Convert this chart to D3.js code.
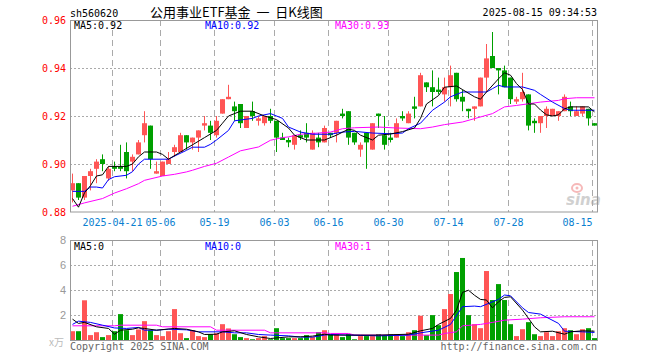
<!DOCTYPE html>
<html>
<head>
<meta charset="utf-8">
<script src="https://cdn.jsdelivr.net/npm/d3@7"></script>
<style>
  body { margin: 0; background: #fff; }
  text { font-family: "DejaVu Sans Mono", monospace; }
</style>
</head>
<body>
<div id="chart"></div>
<script>
var width = 660;
var height = 360;

// trading days shown (2025)
var dates = ['04-10','04-11','04-14','04-15','04-16','04-17','04-18','04-21','04-22','04-23','04-24','04-25','04-28','04-29','04-30',
    '05-06','05-07','05-08','05-09','05-12','05-13','05-14','05-15','05-16','05-19','05-20','05-21','05-22','05-23','05-26','05-27','05-28','05-29','05-30',
    '06-03','06-04','06-05','06-06','06-09','06-10','06-11','06-12','06-13','06-16','06-17','06-18','06-19','06-20','06-23','06-24','06-25','06-26','06-27','06-30',
    '07-01','07-02','07-03','07-04','07-07','07-08','07-09','07-10','07-11','07-14','07-15','07-16','07-17','07-18','07-21','07-22','07-23','07-24','07-25','07-28','07-29','07-30','07-31',
    '08-01','08-04','08-05','08-06','08-07','08-08','08-11','08-12','08-13','08-14','08-15'];

var open = [.889,.892,.886,.895,.898,.902,.894,.899,.899,.905,
    .901,.904,.912,.916,.896,.895,.900,.905,.905,.912,
    .909,.911,.916,.916,.912,.921,.927,.924,.925,.915,
    .922,.918,.917,.920,.918,.911,.910,.908,.912,.913,
    .906,.911,.909,.913,.913,.921,.922,.913,.906,.913,
    .906,.921,.912,.911,.911,.920,.917,.924,.924,.934,
    .932,.931,.929,.932,.938,.928,.923,.923,.924,.936,
    .945,.940,.939,.936,.926,.927,.929,.918,.917,.920,
    .920,.920,.922,.924,.920,.921,.923,.917];
var high = [.896,.892,.895,.898,.902,.904,.899,.901,.908,.909,
    .904,.910,.922,.916,.901,.901,.905,.908,.913,.912,
    .911,.914,.920,.918,.920,.927,.933,.926,.925,.920,
    .926,.920,.920,.923,.918,.913,.911,.912,.914,.917,
    .914,.913,.916,.913,.918,.923,.922,.913,.909,.913,
    .917,.921,.920,.913,.919,.922,.922,.928,.938,.934,
    .939,.936,.936,.941,.938,.931,.923,.924,.936,.950,
    .955,.940,.941,.936,.928,.938,.929,.919,.920,.924,
    .923,.922,.929,.926,.924,.924,.923,.917];
var low = [.884,.885,.885,.889,.892,.897,.893,.897,.897,.894,
    .897,.904,.909,.898,.896,.895,.900,.903,.905,.906,
    .906,.905,.914,.910,.911,.921,.927,.918,.915,.915,
    .918,.916,.916,.917,.905,.910,.907,.906,.910,.909,
    .906,.907,.909,.911,.909,.919,.908,.908,.903,.898,
    .906,.915,.906,.909,.911,.918,.917,.919,.924,.930,
    .924,.929,.926,.924,.926,.922,.919,.918,.924,.930,
    .940,.929,.932,.925,.925,.926,.914,.913,.913,.915,
    .920,.918,.922,.920,.920,.920,.916,.916];
var close = [.892,.886,.895,.897,.901,.900,.898,.898,.898,.897,
    .903,.909,.917,.902,.897,.901,.902,.907,.912,.909,
    .911,.914,.917,.913,.918,.927,.928,.922,.917,.920,
    .920,.919,.920,.918,.911,.910,.909,.912,.911,.911,
    .913,.909,.915,.912,.918,.920,.911,.909,.908,.909,
    .917,.920,.908,.910,.917,.919,.921,.923,.937,.932,
    .930,.930,.932,.937,.927,.926,.922,.924,.936,.944,
    .940,.939,.932,.927,.927,.930,.916,.917,.920,.923,
    .923,.922,.928,.922,.922,.924,.919,.916];
var volume = [0.74,0.74,3.2,0.43,0.66,0.27,0.43,0.74,2.1,0.82,
    0.43,0.88,1.54,0.82,0.43,0.35,0.74,2.5,0.58,0.19,
    0.82,0.35,0.27,0.5,0.58,1.3,0.96,0.5,0.27,0.19,
    0.1,0.19,0.35,0.1,0.98,0.19,0.19,0.19,0.19,0.43,
    0.27,0.66,0.82,0.5,0.5,0.27,0.5,0.1,0.35,0.35,
    0.35,0.5,0.43,0.5,0.5,0.35,0.66,0.82,1.97,0.43,
    2.02,1.22,2.5,3.7,5.45,6.57,2.02,1.3,0.98,5.53,
    3.22,4.49,3.22,1.3,0.35,0.9,1.46,0.5,0.35,0.66,
    0.35,0.74,0.98,0.82,0.5,0.9,0.98,0.19];

// moving averages: [day index, value]
var ma5Price = [[0,.8856],[1,.882],[2,.888],[3,.891],[4,.895],[5,.8955],[6,.899],[9,.899],[10,.900],[11,.903],[12,.905],[14,.905],[15,.904],[16,.902],[18,.905],[20,.908],[22,.911],[24,.914],[25,.917],[26,.920],[28,.922],[30,.922],[32,.920],[34,.9185],[36,.915],[37,.912],[39,.910],[42,.910],[44,.912],[46,.9145],[47,.914],[48,.912],[50,.910],[51,.912],[53,.9125],[55,.9135],[57,.915],[58,.919],[59,.925],[61,.9285],[62,.932],[64,.9325],[65,.931],[67,.928],[68,.927],[69,.930],[71,.9355],[72,.938],[73,.937],[74,.9335],[75,.931],[76,.925],[77,.925],[78,.9225],[79,.9205],[80,.920],[81,.9205],[82,.923],[83,.9238],[86,.9238],[87,.9217]];
var ma10Price = [[0,.8886],[2,.8886],[3,.8904],[4,.8904],[5,.890],[6,.8935],[7,.8947],[9,.8953],[10,.8968],[11,.900],[12,.902],[16,.902],[17,.9033],[19,.9057],[20,.907],[22,.907],[23,.9082],[24,.910],[26,.914],[27,.918],[30,.919],[31,.920],[33,.921],[35,.919],[36,.9154],[38,.9133],[40,.9124],[43,.9124],[45,.9133],[47,.9136],[50,.9129],[53,.9126],[55,.9129],[56,.9147],[58,.917],[60,.9224],[62,.9258],[63,.928],[65,.930],[69,.930],[70,.9314],[71,.9328],[72,.9321],[75,.9321],[77,.9307],[78,.929],[80,.9258],[82,.9231],[83,.9224],[87,.9224]];
var ma30Price = [[0,.8824],[2,.8838],[5,.8856],[7,.8879],[9,.8897],[11,.8918],[12,.8932],[15,.895],[17,.8957],[19,.8967],[20,.8974],[22,.899],[24,.9003],[26,.9029],[28,.9055],[31,.9071],[33,.9099],[35,.911],[36,.9113],[38,.9124],[41,.9129],[43,.9133],[45,.9147],[47,.9151],[51,.9154],[54,.915],[58,.9147],[60,.9154],[62,.9164],[65,.9175],[67,.9189],[70,.921],[71,.9224],[72,.9238],[74,.9244],[76,.9251],[78,.9258],[81,.9265],[82,.9272],[84,.9276],[87,.9276]];
var ma5Vol = [[0,1.70],[1,1.36],[2,1.44],[4,1.09],[6,0.96],[7,0.5],[8,0.82],[10,0.90],[11,1.01],[12,0.96],[14,0.82],[17,0.96],[19,0.90],[21,0.69],[22,0.48],[24,0.5],[25,0.69],[27,0.77],[29,0.48],[31,0.29],[33,0.16],[36,0.29],[38,0.29],[40,0.35],[42,0.5],[43,0.43],[48,0.43],[51,0.43],[56,0.5],[58,0.77],[60,0.96],[61,1.28],[63,1.76],[64,2.42],[65,3.83],[66,4.0],[67,3.6],[68,3.27],[69,3.22],[70,2.6],[71,3.08],[72,3.43],[73,3.48],[75,2.42],[76,1.76],[77,1.09],[78,0.69],[80,0.74],[82,0.5],[83,0.69],[85,0.77],[87,0.74]];
var ma10Vol = [[0,1.28],[1,1.54],[3,1.44],[5,1.22],[7,1.0],[9,0.96],[11,1.04],[12,0.82],[14,0.82],[16,0.90],[19,0.85],[21,0.69],[25,0.69],[27,0.61],[29,0.61],[31,0.48],[33,0.43],[36,0.37],[38,0.27],[40,0.27],[42,0.43],[43,0.48],[46,0.43],[51,0.37],[56,0.43],[58,0.61],[61,0.82],[63,1.28],[65,2.69],[67,2.74],[68,2.69],[71,3.27],[72,3.62],[73,3.56],[75,2.6],[76,2.23],[78,2.1],[81,1.36],[82,0.74],[85,0.69],[87,0.64]];
var ma30Vol = [[0,1.17],[7,1.17],[8,1.22],[14,1.22],[15,1.09],[23,1.09],[24,0.82],[32,0.82],[33,0.61],[42,0.61],[43,0.56],[46,0.56],[47,0.43],[61,0.43],[62,0.56],[64,0.69],[65,1.17],[68,1.28],[70,1.44],[72,1.62],[75,1.70],[78,1.81],[82,1.89],[87,1.89]];

var tickDates = ['04-21','05-06','05-19','06-03','06-16','06-30','07-14','07-28','08-15'];
var tickLabels = ['2025-04-21','05-06','05-19','06-03','06-16','06-30','07-14','07-28','08-15'];
var priceTicks = [0.88, 0.90, 0.92, 0.94, 0.96];
var volTicks = [2, 4, 6, 8];

var RED = '#ff5555', GREEN = '#00a000';
var GRID = '#aaaaaa', BORDER = '#999999';

var svg = d3.select('#chart').append('svg')
    .attr('width', width)
    .attr('height', height);
svg.append('rect').attr('width', width).attr('height', height).attr('fill', '#fff');

var x = d3.scaleBand().domain(d3.range(dates.length)).range([70, 598]);
var y = d3.scaleLinear().domain([0.88, 0.96]).range([212, 20]);
var yv = d3.scaleLinear().domain([0, 8]).range([340.5, 240]);
var L = 70, R = 597;

function up(i) { return close[i] >= open[i]; }

// ---------- text header ----------
svg.append('text').attr('x', 70).attr('y', 17).attr('font-size', 10).text('sh560620');
svg.append('text').attr('x', 150).attr('y', 17).attr('font-size', 13)
    .style('font-family', '"Noto Sans CJK SC", sans-serif')
    .style('white-space', 'pre')
    .text('公用事业ETF基金  一  日K线图');
svg.append('text').attr('x', 597).attr('y', 16).attr('font-size', 10)
    .attr('text-anchor', 'end').text('2025-08-15 09:34:53');

// ---------- grids ----------
function drawGrid(yScale, ticks, top, bottom) {
    var g = svg.append('g');
    g.selectAll('line.h').data(ticks).enter().append('line')
        .attr('x1', L).attr('x2', R)
        .attr('y1', function (d) { return Math.round(yScale(d)) + 0.5; })
        .attr('y2', function (d) { return Math.round(yScale(d)) + 0.5; })
        .attr('stroke', GRID).attr('stroke-dasharray', '2,2');
    g.selectAll('line.v').data(tickDates).enter().append('line')
        .attr('x1', function (d) { return x(dates.indexOf(d)) + 0.5; })
        .attr('x2', function (d) { return x(dates.indexOf(d)) + 0.5; })
        .attr('y1', top).attr('y2', bottom)
        .attr('stroke', GRID).attr('stroke-dasharray', '6,4');
}
drawGrid(y, [0.90, 0.92, 0.94], 20, 212);
drawGrid(yv, [2, 4, 6], 240, 340);

// sina watermark
var wm = svg.append('g').attr('opacity', 0.55);
wm.append('ellipse').attr('cx', 577).attr('cy', 188).attr('rx', 5).attr('ry', 4)
    .attr('fill', 'none').attr('stroke', '#f08080').attr('stroke-width', 2);
wm.append('circle').attr('cx', 577).attr('cy', 188).attr('r', 1.5).attr('fill', '#f08080');
wm.append('text').attr('x', 566).attr('y', 205).attr('font-size', 15)
    .attr('font-weight', 'bold').attr('font-style', 'italic')
    .style('font-family', '"DejaVu Sans", sans-serif')
    .attr('fill', '#aaaaaa').text('sina');

// ---------- candles ----------
var cg = svg.append('g');
cg.selectAll('rect.wick').data(dates).enter().append('rect')
    .attr('x', function (d, i) { return x(i) + 2; })
    .attr('width', 1)
    .attr('y', function (d, i) { return y(high[i]); })
    .attr('height', function (d, i) { return Math.max(1, y(low[i]) - y(high[i])); })
    .attr('fill', function (d, i) { return up(i) ? RED : GREEN; });
cg.selectAll('rect.body').data(dates).enter().append('rect')
    .attr('x', function (d, i) { return x(i); })
    .attr('width', 5)
    .attr('y', function (d, i) { return y(Math.max(open[i], close[i])); })
    .attr('height', function (d, i) { return Math.max(1, Math.abs(y(open[i]) - y(close[i]))); })
    .attr('fill', function (d, i) { return up(i) ? RED : GREEN; });

// ---------- volume bars ----------
svg.append('g').selectAll('rect').data(volume).enter().append('rect')
    .attr('x', function (d, i) { return x(i); })
    .attr('width', 5)
    .attr('y', function (d) { return yv(d); })
    .attr('height', function (d) { return yv(0) - yv(d); })
    .attr('fill', function (d, i) { return up(i) ? RED : GREEN; });

// ---------- MA lines ----------
function maLine(data, yScale, color) {
    var line = d3.line()
        .x(function (d) { return x(d[0]) + 2.5; })
        .y(function (d) { return yScale(d[1]); });
    svg.append('path').datum(data)
        .attr('d', line)
        .attr('fill', 'none')
        .attr('stroke', color)
        .attr('stroke-width', 1);
}
maLine(ma30Price, y, '#ff00ff');
maLine(ma10Price, y, '#0000ff');
maLine(ma5Price, y, '#000000');
maLine(ma30Vol, yv, '#ff00ff');
maLine(ma10Vol, yv, '#0000ff');
maLine(ma5Vol, yv, '#000000');

// ---------- borders ----------
svg.append('rect').attr('x', L + 0.5).attr('y', 20.5).attr('width', R - L).attr('height', 191.5)
    .attr('fill', 'none').attr('stroke', BORDER);
svg.append('rect').attr('x', L + 0.5).attr('y', 240.5).attr('width', R - L).attr('height', 100)
    .attr('fill', 'none').attr('stroke', BORDER);

// ---------- axis labels ----------
svg.append('g').selectAll('text').data(priceTicks).enter().append('text')
    .attr('x', 66).attr('y', function (d) { return y(d); })
    .attr('dy', '0.35em').attr('text-anchor', 'end')
    .attr('font-size', 10).attr('fill', '#ff0000')
    .text(function (d) { return d3.format('.2f')(d); });

// last date label is kept inside the plot (right-aligned on its gridline)
svg.append('g').selectAll('text').data(tickDates).enter().append('text')
    .attr('x', function (d) { return x(dates.indexOf(d)) + 0.5; })
    .attr('y', 226)
    .attr('text-anchor', function (d, i) { return i === tickDates.length - 1 ? 'end' : 'middle'; })
    .attr('font-size', 10).attr('fill', '#0a80d0')
    .text(function (d, i) { return tickLabels[i]; });

svg.append('g').selectAll('text').data(volTicks).enter().append('text')
    .attr('x', 66).attr('y', function (d) { return yv(d); })
    .attr('dy', '0.35em').attr('text-anchor', 'end')
    .attr('font-size', 11).attr('fill', '#999')
    .style('font-family', '"Liberation Sans", sans-serif')
    .text(function (d) { return d; });
svg.append('text').attr('x', 64).attr('y', 346).attr('text-anchor', 'end')
    .attr('font-size', 10).attr('fill', '#bbb')
    .style('font-family', '"Noto Sans CJK SC", sans-serif')
    .text('x万');

// MA legends
function legend(yy, items) {
    svg.append('g').selectAll('text').data(items).enter().append('text')
        .attr('x', function (d) { return d[0]; })
        .attr('y', yy).attr('font-size', 10)
        .attr('fill', function (d) { return d[2]; })
        .text(function (d) { return d[1]; });
}
legend(29, [[74, 'MA5:0.92', '#000'], [205, 'MA10:0.92', '#0000ff'], [335, 'MA30:0.93', '#ff00ff']]);
legend(250, [[74, 'MA5:0', '#000'], [205, 'MA10:0', '#0000ff'], [335, 'MA30:1', '#ff00ff']]);

// footer
svg.append('text').attr('x', 70).attr('y', 350).attr('font-size', 10).attr('fill', '#666')
    .text('Copyright 2025 SINA.COM');
svg.append('text').attr('x', 597).attr('y', 350).attr('font-size', 10).attr('fill', '#666')
    .attr('text-anchor', 'end').text('http://finance.sina.com.cn');
</script>
</body>
</html>
